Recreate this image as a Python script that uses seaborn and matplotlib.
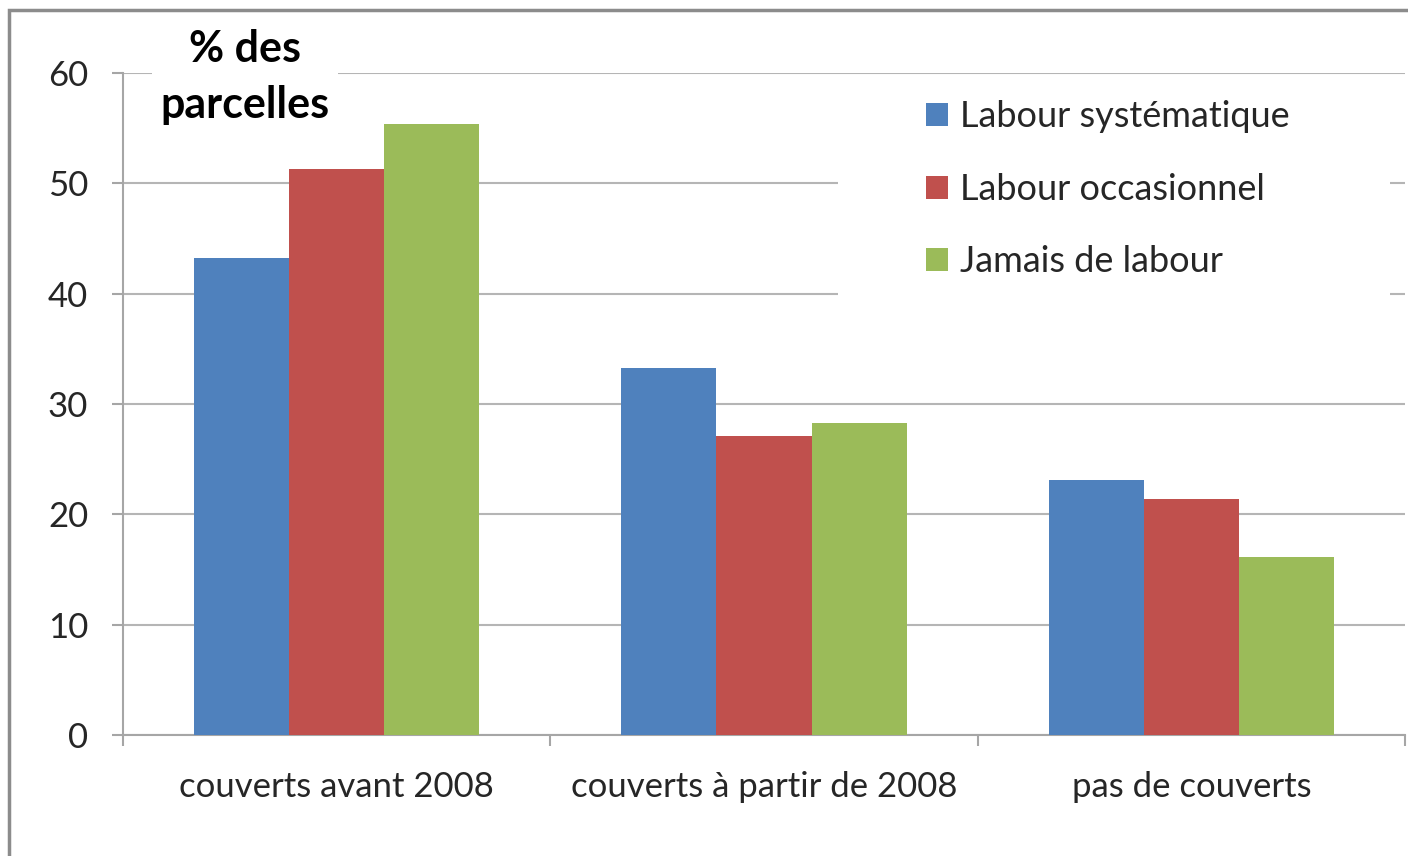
import numpy as np
import pandas as pd
import matplotlib
matplotlib.use("Agg")
import matplotlib.pyplot as plt
import seaborn as sns
from matplotlib.patches import Rectangle

# ===============================
# Data
# ===============================

categories = ["couverts avant 2008", "couverts à partir de 2008", "pas de couverts"]
series = ["Labour systématique", "Labour occasionnel", "Jamais de labour"]
systematique = [43.2, 33.3, 23.1]
occasionnel = [51.3, 27.1, 21.4]
jamais = [55.4, 28.3, 16.1]
colors = ["#4F81BD", "#C0504D", "#9BBB59"]
yticks = [0, 10, 20, 30, 40, 50, 60]

df = pd.DataFrame({
    "categorie": categories * 3,
    "serie": [series[0]] * 3 + [series[1]] * 3 + [series[2]] * 3,
    "valeur": systematique + occasionnel + jamais,
})

# ===============================
# Plot
# ===============================

sns.set_style("white")
plt.rcParams["font.family"] = ["Lato", "DejaVu Sans"]

fig = plt.figure(figsize=(14.08, 8.56), dpi=100)
ax = fig.add_axes([123 / 1408, 121 / 856, 1282 / 1408, 662 / 856])

sns.barplot(data=df, x="categorie", y="valeur", hue="serie",
            palette=colors, saturation=1, width=0.667, gap=0,
            linewidth=0, ax=ax, zorder=3)

ax.set_ylim(0, 60)
ax.set_xlim(-0.5, 2.5)
ax.set_yticks(yticks)
ax.set_xlabel("")
ax.set_ylabel("")
ax.grid(axis="y", color="#b5b5b5", linewidth=1.5, zorder=0)
ax.set_axisbelow(True)

for s in ["top", "right"]:
    ax.spines[s].set_visible(False)
ax.spines["left"].set_color("#a6a6a6")
ax.spines["bottom"].set_color("#a6a6a6")
ax.spines["left"].set_linewidth(1.5)
ax.spines["bottom"].set_linewidth(1.5)

ax.tick_params(axis="y", length=8, width=1.5, color="#a6a6a6", pad=17,
               labelsize=25, labelcolor="#262626", left=True)
ax.set_xticks([-0.5, 0.5, 1.5, 2.5], minor=True)
ax.tick_params(axis="x", which="minor", length=8, width=1.5, color="#a6a6a6", bottom=True)
ax.tick_params(axis="x", which="major", length=0, pad=26, labelsize=25, labelcolor="#262626")

# legend with white background over the gridlines
ax.add_patch(Rectangle((838 / 1408, 1 - 308 / 856), 552 / 1408, 226 / 856,
                       transform=fig.transFigure, facecolor="white",
                       edgecolor="none", zorder=4, clip_on=False))
handles, labels = ax.get_legend_handles_labels()
leg = ax.legend(handles, labels, loc="upper left",
                bbox_to_anchor=(908 / 1408, 1 - 82 / 856),
                bbox_transform=fig.transFigure, frameon=False,
                fontsize=26, handlelength=0.6, handleheight=0.6,
                handletextpad=0.35, labelspacing=1.1, borderpad=0)
leg.set_zorder(5)

# axis title box
fig.text(245 / 1408, 1 - 77 / 856, "% des\nparcelles", ha="center", va="center",
         fontsize=31, fontweight="bold", linespacing=1.5, color="black",
         bbox=dict(facecolor="white", edgecolor="none", pad=6), zorder=6)

# outer frame
fig.patches.append(Rectangle((9 / 1408, -0.05), 1.2, 1 - 10 / 856 + 0.05,
                             transform=fig.transFigure, fill=False,
                             edgecolor="#8c8c8c", linewidth=2.5, zorder=10))

fig.savefig("out.png", dpi=100)
